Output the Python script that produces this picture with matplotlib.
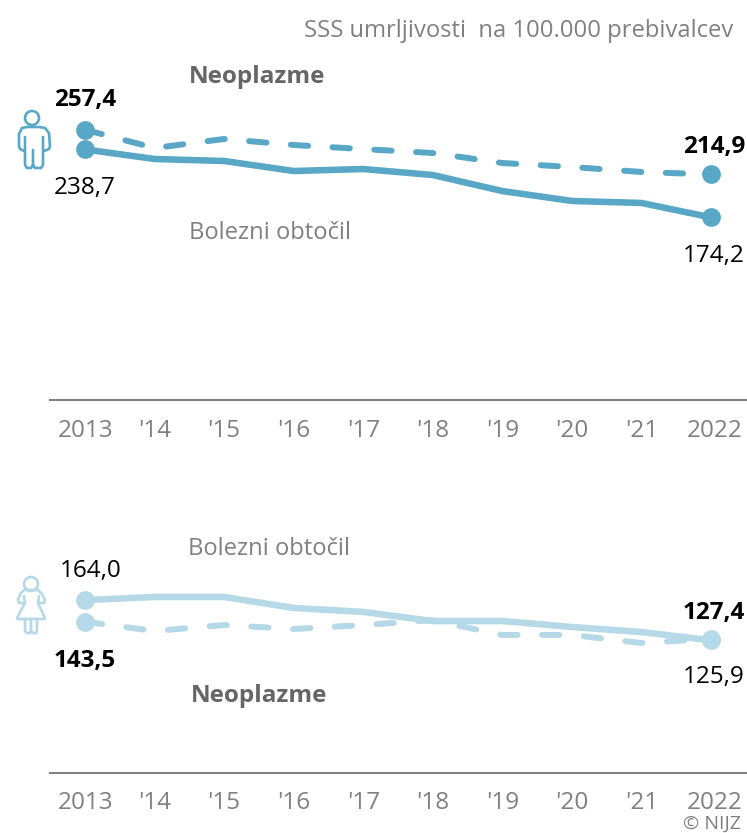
import matplotlib
matplotlib.use("Agg")
import matplotlib.pyplot as plt
from matplotlib.path import Path
from matplotlib.patches import PathPatch, Circle
from matplotlib.transforms import Affine2D, ScaledTranslation

plt.rcParams['font.family'] = ['Open Sans', 'DejaVu Sans']

years = [2013, 2014, 2015, 2016, 2017, 2018, 2019, 2020, 2021, 2022]
year_labels = ["2013", "'14", "'15", "'16", "'17", "'18", "'19", "'20", "'21", "2022"]

# moski
men_circ = [238.7, 229.6, 227.7, 218.2, 220.1, 214.4, 199.2, 189.8, 187.9, 174.2]
men_neo = [257.4, 240.0, 248.6, 242.9, 239.0, 235.3, 225.8, 222.0, 217.3, 214.9]
# zenske
women_circ = [164.0, 167.0, 167.0, 156.6, 152.8, 144.2, 144.2, 138.5, 133.8, 125.9]
women_neo = [143.5, 134.7, 140.4, 136.6, 140.4, 145.0, 131.0, 131.0, 123.3, 127.4]

W, H = 747, 833
MEN_COL = "#58a7c6"
WOMEN_COL = "#b5d9e6"
GREY = "#808080"
PX_PER_UNIT = 1.054


def fmt(v):
    return f"{v:.1f}".replace(".", ",")


def put_text(x, y, s, **kw):
    # pozicija v pikslih, izhodisce levo zgoraj
    fig.text(x / W, 1 - y / H, s, va="center", **kw)


def panel(base_y, circ, neo, col, shift=0, pad=14):
    ax = fig.add_axes([50 / W, 1 - base_y / H, (W - 50) / W, 300 / H])
    ax.set_xlim(2013 - 35 / 69.55, 2013 + 662 / 69.55)
    ax.set_ylim(shift / PX_PER_UNIT, (300 + shift) / PX_PER_UNIT)
    ax.patch.set_alpha(0)
    for s in ["top", "left", "right"]:
        ax.spines[s].set_visible(False)
    ax.spines["bottom"].set_color(GREY)
    ax.spines["bottom"].set_linewidth(1.5)
    ax.set_yticks([])
    ax.set_xticks(years)
    ax.set_xticklabels(year_labels, fontsize=FS, color=GREY)
    ax.tick_params(axis="x", length=0, pad=pad)
    # prva in zadnja letnica sta malo zamaknjeni
    labs = ax.get_xticklabels()
    labs[-1].set_transform(labs[-1].get_transform() + ScaledTranslation(4 / 100, 0, fig.dpi_scale_trans))
    labs[0].set_transform(labs[0].get_transform() + ScaledTranslation(1 / 100, 0, fig.dpi_scale_trans))
    ax.plot(years, neo, color=col, lw=4.3, dashes=(2.9, 4.1), dash_capstyle="round",
            marker="o", ms=13.5, mew=0, markevery=[0, 9], clip_on=False)
    ax.plot(years, circ, color=col, lw=4.7, solid_capstyle="round",
            marker="o", ms=13.5, mew=0, markevery=[0, 9], clip_on=False)
    return ax


def icon(verts, head, col):
    tr = Affine2D().scale(1, -1).translate(0, H)
    codes = []
    pts = []
    for part in verts:
        codes += [Path.MOVETO] + [Path.LINETO] * (len(part) - 1)
        pts += part
    fig.add_artist(PathPatch(Path(pts, codes), fill=False, ec=col, lw=1.9,
                             joinstyle="round", capstyle="round", transform=tr))
    fig.add_artist(Circle(head, 7, fill=False, ec=col, lw=1.9, transform=tr))


FS = 17.5
fig = plt.figure(figsize=(W / 100, H / 100), dpi=100)

panel(400, men_circ, men_neo, MEN_COL, shift=1)
panel(773, women_circ, women_neo, WOMEN_COL, pad=13)

put_text(733, 31, "SSS umrljivosti  na 100.000 prebivalcev", ha="right", fontsize=FS - 0.4, color=GREY)

put_text(257, 77, "Neoplazme", ha="center", fontsize=FS, color="#666666", fontweight="bold")
put_text(189, 233, "Bolezni obtočil", ha="left", fontsize=FS - 0.4, color=GREY)
put_text(188, 549, "Bolezni obtočil", ha="left", fontsize=FS - 0.4, color=GREY)
put_text(259, 696, "Neoplazme", ha="center", fontsize=FS, color="#666666", fontweight="bold")

put_text(85, 100, fmt(men_neo[0]), ha="center", fontsize=FS, fontweight="bold", color="black")
put_text(85, 188, fmt(men_circ[0]), ha="center", fontsize=FS, color="black")
put_text(745, 147, fmt(men_neo[-1]), ha="right", fontsize=FS, fontweight="bold", color="black")
put_text(745, 256, fmt(men_circ[-1]), ha="right", fontsize=FS, color="black")

put_text(91, 571, fmt(women_circ[0]), ha="center", fontsize=FS, color="black")
put_text(85, 661, fmt(women_neo[0]), ha="center", fontsize=FS, fontweight="bold", color="black")
put_text(745, 613, fmt(women_neo[-1]), ha="right", fontsize=FS, fontweight="bold", color="black")
put_text(745, 677, fmt(women_circ[-1]), ha="right", fontsize=FS, color="black")

put_text(741, 823.5, "© NIJZ", ha="right", fontsize=FS - 3.5, color=GREY)

icon([[(24, 151), (20, 149), (19, 146), (19, 134), (22, 128), (27, 127), (39, 127),
       (45, 128), (49, 133), (50, 146), (49, 149), (44, 151)],
      [(25, 137), (25, 165), (27, 168), (31, 168), (33, 165), (33, 150)],
      [(33, 165), (35, 168), (41, 168), (43, 165), (43, 137)]],
     (32, 118), MEN_COL)

icon([[(25, 603), (19, 603), (18, 600), (20, 594), (24, 590), (38, 590), (42, 594),
       (45, 600), (44, 603), (38, 603)],
      [(24, 596), (25, 603), (17, 618), (18, 619), (44, 619), (45, 618), (38, 603), (39, 596)],
      [(25, 619), (25, 631), (27, 633), (30, 633), (31, 631), (31, 619)],
      [(31, 631), (33, 633), (36, 633), (37, 631), (37, 619)]],
     (31, 584), WOMEN_COL)

fig.savefig("out.png", dpi=100)
